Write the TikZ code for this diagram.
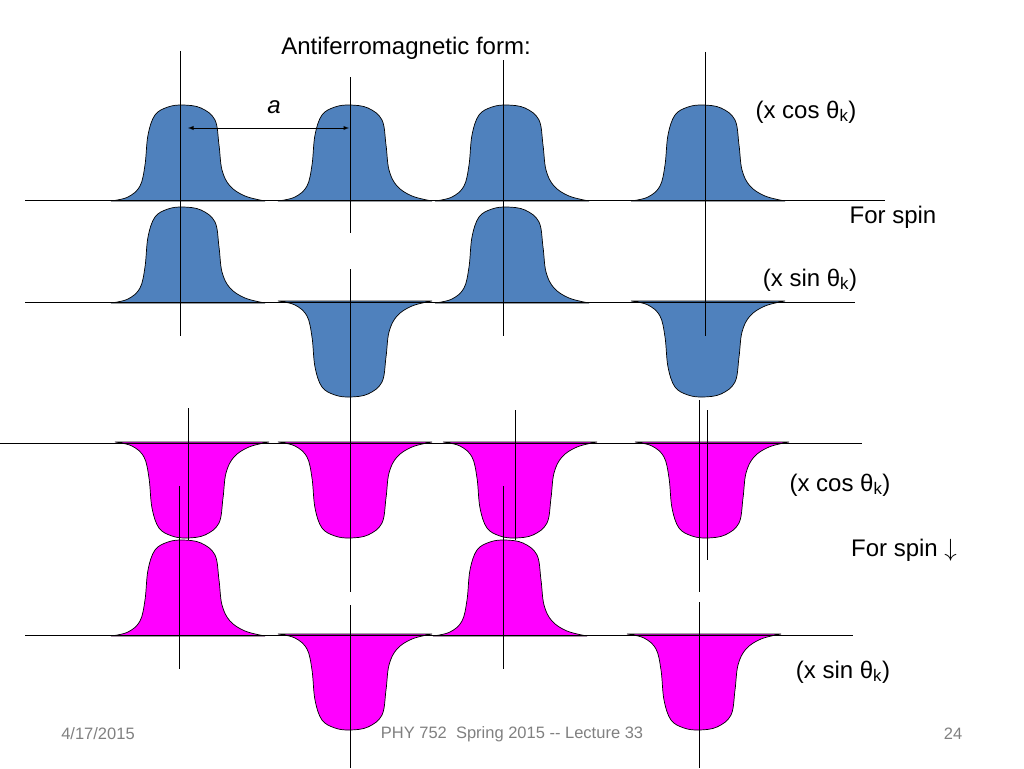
\documentclass[tikz,border=0pt]{standalone}
\usepackage{fontspec}
\setmainfont{Liberation Sans}
\begin{document}
\begin{tikzpicture}[x=1pt,y=-1pt,
  lbl/.style={font=\fontsize{24}{28}\selectfont,inner sep=0},
  foot/.style={font=\fontsize{16.5}{19}\selectfont,text=gray,inner sep=0},
  vl/.style={line width=0.8pt},
  bl/.style={line width=0.9pt}]
\useasboundingbox (0,0) rectangle (1024,768);
\definecolor{bblue}{RGB}{79,129,189}
\definecolor{mag}{RGB}{255,0,255}
\newcommand{\bump}[4]{%
  \begin{scope}[shift={(#1,#2)},yscale=#3]
  \filldraw[fill=#4,draw=black,line width=0.7pt] plot[smooth,tension=0.6] coordinates
   {(-72,1) (-55,-3) (-43,-14) (-38,-35) (-35,-65) (-28,-85) (-15,-93) (0,-95) (18,-92) (32,-80) (36,-55) (39,-30) (47,-14) (62,-4) (82,1)} -- cycle;
  \end{scope}}
% row 1
\foreach \c in {183,350,507,703}{\bump{\c}{200}{1}{bblue}}
% row 2
\bump{183}{302}{1}{bblue}\bump{507}{302}{1}{bblue}
\bump{350}{302}{-1}{bblue}\bump{703}{302}{-1}{bblue}
% row 3
\foreach \c in {187,350,515,707}{\bump{\c}{443}{-1}{mag}}
% row 4
\bump{183}{635}{1}{mag}\bump{505}{635}{1}{mag}
\bump{350}{635}{-1}{mag}\bump{699}{635}{-1}{mag}
% baselines
\coordinate (r1a) at (25,200); \coordinate (r1b) at (885,200);
\coordinate (r2a) at (25,302); \coordinate (r2b) at (855,302);
\coordinate (r3a) at (0,443); \coordinate (r3b) at (862,443);
\coordinate (r4a) at (25,635); \coordinate (r4b) at (853,635);
\draw[bl] (r1a)--(r1b); \draw[bl] (r2a)--(r2b);
\draw[bl] (r3a)--(r3b); \draw[bl] (r4a)--(r4b);
% vertical lines
\draw[vl] (180,51)--(180,336);
\draw[vl] (350,77)--(350,233);
\draw[vl] (350,269)--(350,592);
\draw[vl] (503,60)--(503,336);
\draw[vl] (705,52)--(705,336);
\draw[vl] (188,408)--(188,540);
\draw[vl] (179,486)--(179,669);
\draw[vl] (350,605)--(350,768);
\draw[vl] (515,410)--(515,540);
\draw[vl] (503,486)--(503,669);
\draw[vl] (699,400)--(699,592);
\draw[vl] (707,410)--(707,560);
\draw[vl] (699,602)--(699,768);
% arrow a
\coordinate (aa) at (188,128); \coordinate (ab) at (349,128);
\draw[line width=0.9pt,<->,>=latex] (aa)--(ab);
\node[lbl,font=\fontsize{24}{28}\itshape] (alab) at (274,107) {a};
% labels
\node[lbl] (title) at (406,48) {Antiferromagnetic form:};
\node[lbl] (l1) at (806,112) {(x cos θ\textsubscript{k})};
\node[lbl] (l2) at (893,217) {For spin};
\node[lbl] (l3) at (810,280) {(x sin θ\textsubscript{k})};
\node[lbl] (l4) at (840,485) {(x cos θ\textsubscript{k})};
\node[lbl] (l5) at (904,550) {For spin $\downarrow$};
\node[lbl] (l6) at (843,672) {(x sin θ\textsubscript{k})};
\node[foot] (f1) at (98,734) {4/17/2015};
\node[foot] (f2) at (512,734) {PHY 752\ \ Spring 2015 -{}- Lecture 33};
\node[foot] (f3) at (953,734) {24};
\end{tikzpicture}
\end{document}
